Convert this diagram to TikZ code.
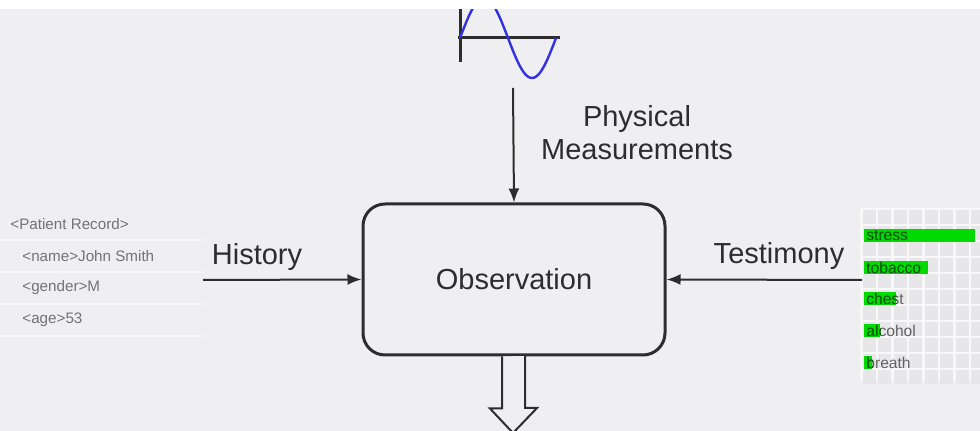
\documentclass[tikz,border=0pt]{standalone}
\usepackage{fontspec}
\setmainfont{Liberation Sans}
\usepackage{xcolor}
\usetikzlibrary{positioning,arrows.meta}
\definecolor{bgray}{RGB}{239,239,241}
\definecolor{ink}{RGB}{45,45,45}
\definecolor{xmlgray}{RGB}{115,115,118}
\definecolor{cellgray}{RGB}{231,231,233}
\definecolor{gridwhite}{RGB}{248,248,249}
\definecolor{bargreen}{RGB}{0,218,0}
\definecolor{bartext}{RGB}{0,95,0}
\definecolor{wave}{RGB}{50,50,225}
\tikzset{big label/.style={font=\fontsize{14.5}{16.5}\selectfont,text=ink},
  xml label/.style={font=\fontsize{7.6}{9}\selectfont,text=xmlgray,anchor=west,inner sep=0pt},
  bar label/.style={font=\fontsize{7.8}{9}\selectfont,text=xmlgray!85!black,anchor=west,inner sep=0pt},
  flow/.style={draw=ink,line width=1pt,-{Latex[length=7pt,width=5.5pt]}},
  obs box/.style={draw=ink,line width=1.5pt,rounded corners=11pt,fill=bgray,
    minimum width=151pt,minimum height=75.5pt,inner sep=0pt}}

\begin{document}
\begin{tikzpicture}[x=0.5pt,y=-0.5pt,big label]
			\fill[bgray] (0,0) rectangle (980,431);
			\useasboundingbox (0,0) rectangle (980,431);
			% the wave
			\draw[ink,line width=1.5pt] (460,0) -- (460,62);
			\draw[ink,line width=1.5pt] (458,38) -- (560,38);
			\draw[wave,line width=1.2pt,domain=0:96,samples=60] plot ({460+\x},{38-40*sin(\x*3.75)});
			\fill[white] (0,0) rectangle (980,9);
			% the patient record
			\foreach \y in {240,272,304,336}
				\draw[white,opacity=0.45,line width=1pt] (0,\y) -- (205,\y);
			\node[xml label] (rec) at (10,224) {<Patient Record>};
			\node[xml label] (name) at (22,256) {<name>John Smith};
			\node[xml label] (gender) at (22,288) {<gender>M};
			\node[xml label] (age) at (22,320) {<age>53};
			% the symptom chart
			\fill[gridwhite] (860,208) rectangle (980,381);
			\foreach \i in {0,...,7}
				\foreach \j in {0,...,10}
					\fill[cellgray] ({862.5+15.5*\i},{210.5+16*\j}) rectangle +(13,13.5);
			\foreach \s/\l/\y in {stress/111/229,tobacco/64/261,chest/32/292,alcohol/16/324,breath/8/356}{
				\fill[bargreen] (864,\y) rectangle +(\l,13);
				\node[bar label] (\s) at (866,\y+6.5) {\s};
				\begin{scope}
					\clip (864,\y) rectangle +(\l,13);
					\node[bar label,text=bartext] at (866,\y+6.5) {\s};
				\end{scope}
			}
			% the middle
			\node[obs box] (obs) at (514,279.5) {Observation};
			\node[align=center] (meas) at (637,133) {Physical\\Measurements};
			\node (hist) at (257,257) {History};
			\node (test) at (779,256) {Testimony};
			\coordinate (meas start) at (513,88);
			\coordinate (hist start) at (203,280);
			\coordinate (test start) at (862,280);
			\draw[flow] (meas start) -- (obs.north);
			\draw[flow] (hist start) -- (obs.west);
			\draw[flow] (test start) -- (obs.east);
			\draw[ink,line width=1pt,fill=bgray] (obs.south) ++(-12,0) -- ++(0,52) -- ++(-12,0)
				-- (513,433) -- (537,408) -- ++(-12,0) -- ++(0,-52);
		\end{tikzpicture}
\end{document}
